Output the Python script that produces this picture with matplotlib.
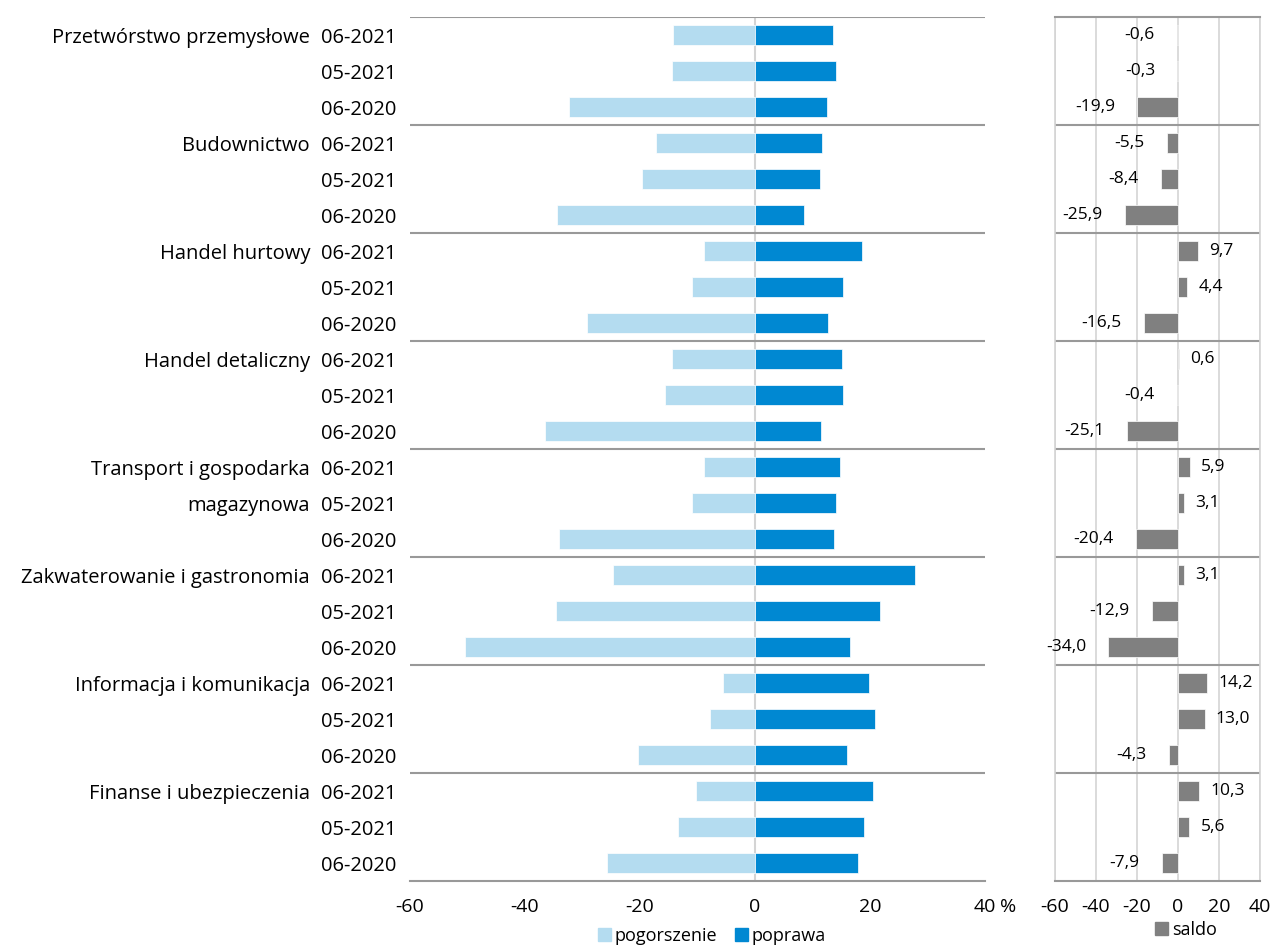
import matplotlib
matplotlib.use('Agg')
import matplotlib.pyplot as plt
from matplotlib.patches import Patch
import matplotlib.transforms as mtransforms
import numpy as np

plt.rcParams['font.family'] = ['Open Sans', 'DejaVu Sans']
plt.rcParams['axes.unicode_minus'] = False

# dane
sekcje = [["Przetwórstwo przemysłowe"], ["Budownictwo"], ["Handel hurtowy"],
          ["Handel detaliczny"], ["Transport i gospodarka", "magazynowa"],
          ["Zakwaterowanie i gastronomia"], ["Informacja i komunikacja"],
          ["Finanse i ubezpieczenia"]]
okresy = ["06-2021", "05-2021", "06-2020"]

pogorszenie = [14.2, 14.4, 32.4, 17.2, 19.7, 34.4, 8.9, 10.9, 29.2, 14.5, 15.7, 36.6,
               8.9, 11.0, 34.1, 24.7, 34.6, 50.5, 5.6, 7.9, 20.3, 10.2, 13.4, 25.8]
poprawa = [13.6, 14.1, 12.5, 11.7, 11.3, 8.5, 18.6, 15.3, 12.7, 15.1, 15.3, 11.5,
           14.8, 14.1, 13.7, 27.8, 21.7, 16.5, 19.8, 20.9, 16.0, 20.5, 19.0, 17.9]
saldo = [-0.6, -0.3, -19.9, -5.5, -8.4, -25.9, 9.7, 4.4, -16.5, 0.6, -0.4, -25.1,
         5.9, 3.1, -20.4, 3.1, -12.9, -34.0, 14.2, 13.0, -4.3, 10.3, 5.6, -7.9]

jasny = '#b4dcf0'
ciemny = '#0088d2'
szary = '#808080'
linia = '#999999'
siatka = '#d4d4d4'
fs = 14.5

n = len(saldo)
y = np.arange(n)
etykiety = okresy * len(sekcje)

fig = plt.figure(figsize=(12.74, 9.47), dpi=100)
ax = fig.add_axes([410/1274, 1-881/947, 575/1274, 864/947])
ax2 = fig.add_axes([1055/1274, 1-881/947, 205/1274, 864/947])

# lewy wykres
ax.barh(y, [-v for v in pogorszenie], height=0.58, color=jasny, edgecolor='white', linewidth=0.5)
ax.barh(y, poprawa, height=0.58, color=ciemny, edgecolor='white', linewidth=0.5)
ax.axvline(0, color=siatka, lw=1.5, zorder=0)
ax.set_xlim(-60, 40)
ax.set_ylim(n-0.5, -0.5)
ax.set_xticks([-60, -40, -20, 0, 20, 40])
ax.set_yticks(y)
ax.set_yticklabels(etykiety, fontsize=fs)
ax.tick_params(axis='y', length=0, pad=10)
ax.tick_params(axis='x', length=0, pad=12, labelsize=14)
for s in ['left', 'right', 'top']:
    ax.spines[s].set_visible(False)
ax.spines['bottom'].set_color(linia)
ax.spines['bottom'].set_linewidth(1.5)
ax.annotate('%', (1, 0), xycoords='axes fraction', xytext=(11, -12),
            textcoords='offset points', fontsize=14, va='top', ha='left')

# prawy wykres
ax2.barh(y, saldo, height=0.58, color=szary, edgecolor='white', linewidth=0.5)
ax2.set_xlim(-60, 40)
ax2.set_ylim(n-0.5, -0.5)
ax2.set_xticks([-60, -40, -20, 0, 20, 40])
ax2.set_yticks([])
ax2.grid(axis='x', color=siatka, lw=1.2)
ax2.set_axisbelow(True)
ax2.tick_params(axis='x', length=0, pad=12, labelsize=14)
for s in ['left', 'right']:
    ax2.spines[s].set_color(siatka)
    ax2.spines[s].set_linewidth(1.2)
for s in ['top', 'bottom']:
    ax2.spines[s].set_color(linia)
    ax2.spines[s].set_linewidth(1.5)
for yi, v in zip(y, saldo):
    tekst = f"{v:.1f}".replace('.', ',')
    if v < 0:
        ax2.annotate(tekst, (v, yi), xytext=(-16, 0), textcoords='offset points',
                     ha='right', va='center', fontsize=12.5)
    else:
        ax2.annotate(tekst, (v, yi), xytext=(8, 0), textcoords='offset points',
                     ha='left', va='center', fontsize=12.5)

# linie oddzielające sekcje
for k in range(1, len(sekcje)):
    yy = k * 3 - 0.5
    ax.axhline(yy, color=linia, lw=1.5)
    ax2.axhline(yy, color=linia, lw=1.5)
ax.axhline(-0.5, color=linia, lw=1.5)

# nazwy sekcji
tr = mtransforms.blended_transform_factory(fig.transFigure, ax.transData)
for i, linie in enumerate(sekcje):
    for j, t in enumerate(linie):
        ax.text(310/1274, i * 3 + j, t, transform=tr, ha='right', va='center_baseline', fontsize=fs)

# legendy
fig.legend(handles=[Patch(color=jasny, label='pogorszenie'), Patch(color=ciemny, label='poprawa')],
           loc='center', bbox_to_anchor=(712/1274, 1-936/947), ncol=2, frameon=False,
           fontsize=13, handlelength=0.7, handleheight=0.7, handletextpad=0.2, columnspacing=1.0)
fig.legend(handles=[Patch(color=szary, label='saldo')],
           loc='center', bbox_to_anchor=(1186/1274, 1-930/947), frameon=False,
           fontsize=13, handlelength=0.7, handleheight=0.7, handletextpad=0.2)

plt.savefig('out.png', dpi=100)
plt.close('all')
